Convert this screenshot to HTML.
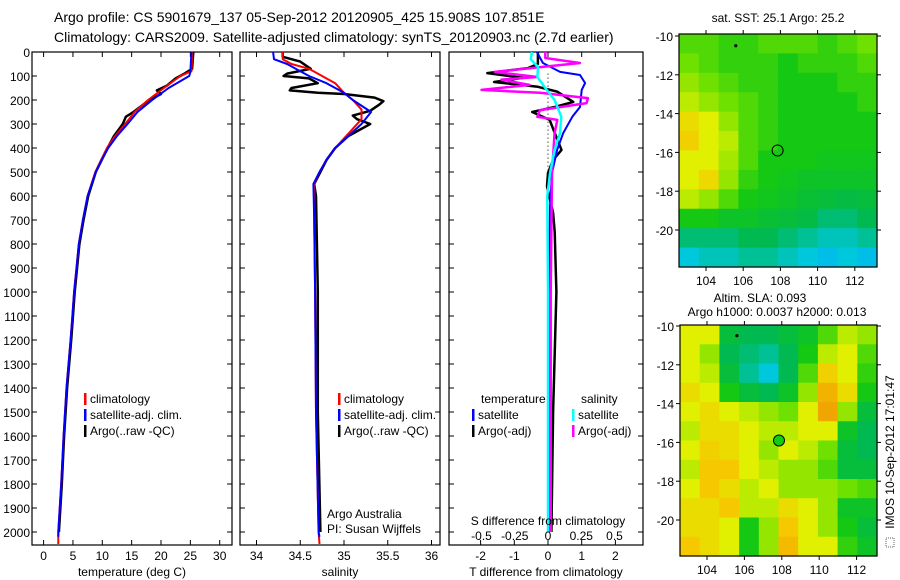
<!DOCTYPE html>
<html><head><meta charset="utf-8">
<style>
html,body{margin:0;padding:0;background:#fff;}
svg{display:block;font-family:"Liberation Sans",sans-serif;}
text{font-size:12px;fill:#000;}
</style></head>
<body>
<svg id="fig" width="900" height="580" viewBox="0 0 900 580">
<text x="54" y="22" style="font-size:14px">Argo profile: CS 5901679_137 05-Sep-2012 20120905_425 15.908S 107.851E</text>
<text x="54" y="42" style="font-size:14px">Climatology: CARS2009. Satellite-adjusted climatology: synTS_20120903.nc (2.7d earlier)</text>
<g id="p1"></g>
<g id="p2"></g>
<g id="p3"></g>
<g id="m1"></g>
<g id="m2"></g>
<text x="778" y="22" text-anchor="middle">sat. SST: 25.1  Argo: 25.2</text>
<text x="760" y="302" text-anchor="middle">Altim. SLA: 0.093</text>
<text x="777" y="316" text-anchor="middle">Argo h1000: 0.0037 h2000: 0.013</text>
<rect x="886" y="538" width="8" height="9" fill="none" stroke="#666" stroke-width="1" stroke-dasharray="1,1"/>
<text transform="translate(894,452) rotate(-90)" text-anchor="middle">IMOS 10-Sep-2012 17:01:47</text>
</svg>
<script>
const NS="http://www.w3.org/2000/svg";
// ---- data ----
const depthTicks=[0,100,200,300,400,500,600,700,800,900,1000,1100,1200,1300,1400,1500,1600,1700,1800,1900,2000];
const tempTicks=[0,5,10,15,20,25,30];
const salTicks=[34,34.5,35,35.5,36];
const tdiffTicks=[-2,-1,0,1,2];
const sdiffTicks=[-0.5,-0.25,0,0.25,0.5];
const sdiffLabels=["-0.5","-0.25","0","0.25","0.5"];

const tClimD=[0,80,100,150,200,250,300,350,400,450,500,600,700,800,900,1000,1100,1200,1400,1600,1800,2000,2050];
const tClimV=[25.3,25.2,23.3,20.5,17.8,15.5,13.9,12.2,10.8,9.8,8.8,7.5,6.7,6.0,5.6,5.2,4.9,4.6,3.9,3.4,3.0,2.5,2.5];
const tSatD=[0,85,100,150,200,250,300,350,400,450,500,600,700,800,900,1000,1100,1200,1400,1600,1800,2000,2020];
const tSatV=[25.2,25.0,24.8,21.3,18.5,16.0,14.3,12.5,11.0,9.9,8.9,7.5,6.7,6.0,5.6,5.2,4.9,4.6,3.9,3.4,3.0,2.5,2.5];
const tArgD=[0,70,90,110,140,160,175,200,250,270,300,350,400,500,600,700,800,1000,1200,1400,1600,1800,2000];
const tArgV=[25.5,25.3,24.0,22.5,21.0,19.3,20.0,18.0,15.3,14.0,13.5,12.0,10.9,8.9,7.6,6.8,6.1,5.3,4.7,4.0,3.5,3.1,2.6];

const sClimD=[0,30,50,70,100,130,170,200,240,280,320,360,400,450,500,550,700,1000,1500,2000,2050];
const sClimV=[34.3,34.3,34.4,34.6,34.75,34.9,35.0,35.1,35.2,35.2,35.1,35.0,34.9,34.8,34.72,34.66,34.66,34.67,34.68,34.71,34.72];
const sSatD=[0,30,50,80,100,130,170,200,250,300,350,400,450,500,550,700,1000,1500,2000,2020];
const sSatV=[34.19,34.2,34.35,34.5,34.6,34.8,35.0,35.1,35.31,35.2,35.05,34.9,34.8,34.72,34.65,34.66,34.67,34.68,34.71,34.72];
const sArgD=[0,20,40,70,90,100,110,130,150,160,170,175,190,205,220,245,265,280,300,350,400,450,550,600,1000,1500,2000];
const sArgV=[34.3,34.3,34.5,34.62,34.35,34.31,34.6,34.7,34.4,34.38,34.7,35.0,35.35,35.45,35.4,35.3,35.1,35.15,35.3,35.05,34.9,34.8,34.66,34.68,34.7,34.7,34.73];

const dtSatD=[0,46,83,96,129,158,229,270,338,408,504,645,1000,1500,2000];
const dtSatV=[-0.33,-0.15,0.36,0.95,1.1,1.0,0.95,0.72,0.45,0.27,0.12,0.06,0.03,0.02,0.02];
const dtArgD=[0,50,67,88,108,125,145,165,208,229,250,283,320,408,450,504,560,670,750,1000,1500,2000];
const dtArgV=[-0.3,-0.3,-0.6,-1.8,-0.75,-1.6,-0.3,0.27,0.75,0.2,-0.47,0.05,0.15,0.4,0.15,0.0,-0.03,0.15,0.2,0.25,0.15,0.1];
const dsSatD=[0,30,62,104,158,200,270,338,408,504,600,1000,2000];
const dsSatV=[-0.12,-0.13,-0.075,-0.08,-0.01,0.05,0.1,0.09,0.05,0.015,-0.005,0.0,0.0];
const dsArgD=[0,25,46,83,104,115,137,158,170,192,213,242,270,283,338,504,1000,2000];
const dsArgV=[-0.02,-0.02,0.24,-0.4,-0.08,-0.35,-0.14,-0.5,-0.06,0.3,0.29,-0.06,-0.08,0.07,0.05,0.03,0.02,0.02];

const mapLons=[104,106,108,110,112];
const mapLats=[-10,-12,-14,-16,-18,-20];
const sstGrid=[
[.6,.6,.55,.55,.6,.6,.6,.55,.6,.65],
[.65,.6,.55,.55,.55,.5,.55,.55,.55,.6],
[.7,.65,.6,.55,.55,.5,.5,.5,.55,.55],
[.75,.7,.65,.6,.55,.5,.5,.5,.5,.55],
[.85,.8,.7,.6,.55,.5,.5,.5,.5,.5],
[.88,.8,.75,.6,.55,.5,.5,.5,.5,.5],
[.8,.8,.72,.6,.5,.5,.5,.48,.48,.48],
[.8,.86,.7,.55,.5,.48,.45,.45,.45,.45],
[.75,.7,.6,.5,.48,.45,.42,.4,.38,.4],
[.5,.5,.45,.45,.42,.4,.38,.3,.3,.35],
[.3,.3,.3,.35,.35,.3,.25,.2,.2,.25],
[.15,.2,.2,.25,.25,.2,.15,.1,.15,.1]];
const slaGrid=[
[.8,.8,.4,.35,.35,.4,.45,.6,.75,.7],
[.8,.7,.35,.3,.25,.35,.5,.75,.8,.6],
[.8,.75,.4,.25,.15,.35,.6,.88,.8,.55],
[.85,.8,.5,.4,.35,.45,.7,.93,.85,.5],
[.8,.85,.8,.75,.7,.65,.8,.95,.7,.4],
[.75,.85,.85,.8,.75,.75,.8,.8,.45,.35],
[.8,.88,.85,.8,.7,.8,.75,.65,.4,.35],
[.75,.9,.9,.8,.75,.7,.7,.6,.4,.4],
[.8,.9,.85,.75,.8,.7,.7,.7,.65,.6],
[.85,.85,.9,.75,.75,.85,.8,.7,.45,.45],
[.85,.85,.8,.5,.7,.9,.8,.7,.5,.4],
[.9,.85,.8,.5,.7,.92,.8,.8,.55,.45]];
const argoLon=107.85, argoLat=-15.9;

// ---- helpers ----
function el(tag,attrs,parent){const e=document.createElementNS(NS,tag);for(const k in attrs)e.setAttribute(k,attrs[k]);parent.appendChild(e);return e;}
const yD=d=>52+d*0.24;
const BOT=545;
function panel(g,x0,x1,xs,xticks,xlabels,title,showDepth){
  el('rect',{x:x0,y:52,width:x1-x0,height:BOT-52,fill:'none',stroke:'#000','stroke-width':1.2},g);
  xticks.forEach((t,i)=>{const x=xs(t);
    el('line',{x1:x,y1:52,x2:x,y2:57,stroke:'#000'},g);
    el('line',{x1:x,y1:BOT,x2:x,y2:BOT-5,stroke:'#000'},g);
    const tx=el('text',{x:x,y:560,'text-anchor':'middle'},g);tx.textContent=xlabels[i];
    
    });
  depthTicks.forEach(d=>{const y=yD(d);
    el('line',{x1:x0,y1:y,x2:x0+5,y2:y,stroke:'#000'},g);
    el('line',{x1:x1,y1:y,x2:x1-5,y2:y,stroke:'#000'},g);
    if(showDepth){const t=el('text',{x:30,y:y+5,'text-anchor':'end'},g);t.textContent=d;
      
      }});
  const tt=el('text',{x:(x0+x1)/2,y:576,'text-anchor':'middle'},g);tt.textContent=title;
  
  
}
function line(g,D,V,xs,color,w,name){
  const pts=D.map((d,i)=>xs(V[i]).toFixed(1)+','+yD(d).toFixed(1)).join(' ');
  const p=el('polyline',{points:pts,fill:'none',stroke:color,'stroke-width':w,'stroke-linejoin':'round'},g);
  
  
}
function legend(g,x,y,color,label,name){
  el('rect',{x:x,y:y-10,width:2.5,height:12,fill:color},g);
  const t=el('text',{x:x+6,y:y},g);t.textContent=label;
  
  
}

// ---- temperature panel ----
const p1=document.getElementById('p1');
const xT=t=>43.6+t*5.87;
panel(p1,32,232,xT,tempTicks,tempTicks.map(String),'temperature (deg C)',true);
line(p1,tArgD,tArgV,xT,'#000',2.5,'argo-temperature-line');
line(p1,tClimD,tClimV,xT,'#f00',2,'climatology-temperature-line');
line(p1,tSatD,tSatV,xT,'#00f',2,'satellite-temperature-line');
legend(p1,84,403,'#f00','climatology','legend-climatology');
legend(p1,84,419,'#00f','satellite-adj. clim.','legend-satellite');
legend(p1,84,435,'#000','Argo(..raw -QC)','legend-argo');

// ---- salinity panel ----
const p2=document.getElementById('p2');
const xS=s=>256.5+(s-34)*87.5;
panel(p2,240,440,xS,salTicks,salTicks.map(String),'salinity',false);
line(p2,sArgD,sArgV,xS,'#000',2.5,'argo-salinity-line');
line(p2,sClimD,sClimV,xS,'#f00',2,'climatology-salinity-line');
line(p2,sSatD,sSatV,xS,'#00f',2,'satellite-salinity-line');
legend(p2,338,403,'#f00','climatology','legend-climatology');
legend(p2,338,419,'#00f','satellite-adj. clim.','legend-satellite');
legend(p2,338,435,'#000','Argo(..raw -QC)','legend-argo');
let t=el('text',{x:327,y:518},p2);t.textContent='Argo Australia';


t=el('text',{x:327,y:533},p2);t.textContent='PI: Susan Wijffels';



// ---- difference panel ----
const p3=document.getElementById('p3');
const xDT=v=>548+v*33.7;
const xDS=v=>548+v*133;
panel(p3,449,643,xDT,tdiffTicks,tdiffTicks.map(String),'T difference from climatology',false);
el('line',{x1:548,y1:yD(90),x2:548,y2:yD(530),stroke:'#000','stroke-width':1,'stroke-dasharray':'1,3'},p3);
line(p3,dtArgD,dtArgV,xDT,'#000',2.5,'argo-t-diff-line');
line(p3,dtSatD,dtSatV,xDT,'#00f',2,'satellite-t-diff-line');
line(p3,dsArgD,dsArgV,xDS,'#f0f',2.5,'argo-s-diff-line');
line(p3,dsSatD,dsSatV,xDS,'#0ff',2.5,'satellite-s-diff-line');
t=el('text',{x:481,y:403},p3);t.textContent='temperature';


t=el('text',{x:581,y:403},p3);t.textContent='salinity';


legend(p3,472,419,'#00f','satellite','legend-t-satellite');
legend(p3,472,435,'#000','Argo(-adj)','legend-t-argo');
legend(p3,572,419,'#0ff','satellite','legend-s-satellite');
legend(p3,572,435,'#f0f','Argo(-adj)','legend-s-argo');
t=el('text',{x:548,y:525,'text-anchor':'middle'},p3);t.textContent='S difference from climatology';


sdiffTicks.forEach((v,i)=>{const tx=el('text',{x:xDS(v),y:540,'text-anchor':'middle'},p3);tx.textContent=sdiffLabels[i];
  
  });

// ---- maps ----
const stops=[[0,[0,170,255]],[0.15,[0,200,220]],[0.35,[0,185,80]],[0.5,[20,200,20]],[0.65,[110,225,0]],[0.8,[225,240,0]],[0.9,[245,200,0]],[1,[235,130,0]]];
function col(v){for(let i=1;i<stops.length;i++){if(v<=stops[i][0]){const a=stops[i-1],b=stops[i],f=(v-a[0])/(b[0]-a[0]);
  return 'rgb('+a[1].map((c,k)=>Math.round(c+(b[1][k]-c)*f)).join(',')+')';}}return 'rgb(235,130,0)';}
function map(g,x0,y0,x1,y1,lonx,laty,grid,argoFill){
  const rows=grid.length,cols=grid[0].length,cw=(x1-x0)/cols,ch=(y1-y0)/rows;
  grid.forEach((r,i)=>r.forEach((v,j)=>{const c=el('rect',{x:x0+j*cw,y:y0+i*ch,width:cw+0.6,height:ch+0.6,fill:col(v)},g);
    
    }));
  el('rect',{x:x0,y:y0,width:x1-x0,height:y1-y0,fill:'none',stroke:'#000','stroke-width':1.2},g);
  mapLons.forEach(l=>{const x=lonx(l);el('line',{x1:x,y1:y0,x2:x,y2:y0-4,stroke:'#000'},g);
    el('line',{x1:x,y1:y1,x2:x,y2:y1+4,stroke:'#000'},g);
    const tx=el('text',{x:x,y:y1+18,'text-anchor':'middle'},g);tx.textContent=l;
    
    });
  mapLats.forEach(l=>{const y=laty(l);el('line',{x1:x0,y1:y,x2:x0-4,y2:y,stroke:'#000'},g);
    el('line',{x1:x1,y1:y,x2:x1+4,y2:y,stroke:'#000'},g);
    const tx=el('text',{x:x0-6,y:y+5,'text-anchor':'end'},g);tx.textContent=l;
    
    });
  const m=el('circle',{cx:lonx(argoLon),cy:laty(argoLat),r:5.5,fill:argoFill,stroke:'#000','stroke-width':1},g);
  
  
  el('circle',{cx:lonx(105.6),cy:laty(-10.5),r:1.6,fill:'#000'},g);
}
map(document.getElementById('m1'),679,34,877,267,l=>706+(l-104)*18.6,l=>36+(-10-l)*19.4,sstGrid,'none');
map(document.getElementById('m2'),680,325,877,556,l=>707+(l-104)*18.7,l=>326+(-10-l)*19.4,slaGrid,'#1c1');
</script>
</body></html>
